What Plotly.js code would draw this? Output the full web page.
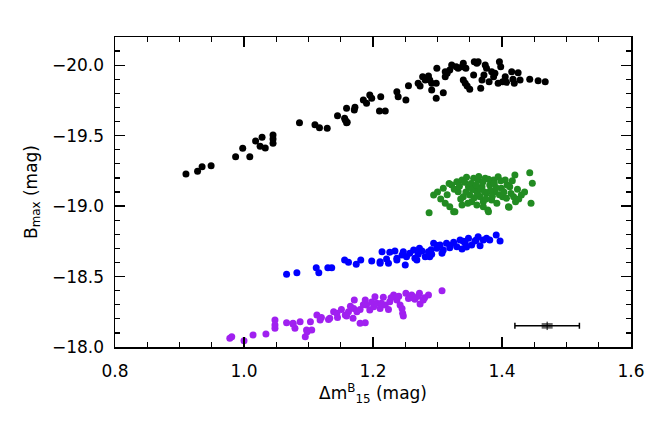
<!DOCTYPE html>
<html>
<head>
<meta charset="utf-8">
<script src="https://cdn.plot.ly/plotly-3.0.1.min.js"></script>
<style>html,body{margin:0;padding:0;background:#fff;}#chart{width:667px;height:422px;}</style>
</head>
<body>
<div id="chart"></div>
<script>
// Black sample
const blackX = [0.910,0.928,0.935,0.949,0.987,0.998,1.009,1.018,1.028,1.025,1.033,1.045,1.045,1.045,1.086,1.110,1.117,1.129,1.145,1.156,1.159,1.159,
  1.157,1.160,1.171,1.172,1.185,1.190,1.195,1.198,1.210,1.219,1.212,1.237,1.239,1.251,1.255,1.270,1.273,1.277,1.281,1.286,1.288,1.291,1.291,1.298,1.298,1.299,
  1.309,1.312,1.312,1.315,1.319,1.322,1.329,1.332,1.338,1.340,1.344,1.340,1.343,1.346,1.350,1.356,1.357,1.361,1.363,1.367,1.369,1.372,1.374,1.376,1.380,1.384,
  1.387,1.389,1.396,1.398,1.394,1.401,1.405,1.407,1.415,1.417,1.419,1.425,1.428,1.443,1.456,1.467];
const blackY = [-19.228,-19.247,-19.280,-19.287,-19.350,-19.410,-19.350,-19.462,-19.488,-19.424,-19.412,-19.505,-19.476,-19.446,-19.592,-19.578,-19.556,-19.552,-19.641,-19.623,-19.592,-19.694,
  -19.611,-19.595,-19.682,-19.701,-19.753,-19.729,-19.788,-19.765,-19.675,-19.675,-19.776,-19.812,-19.776,-19.753,-19.854,-19.871,-19.852,-19.918,-19.895,-19.923,-19.895,-19.824,-19.871,-19.871,-19.765,-19.978,
  -19.805,-19.918,-19.954,-19.942,-19.966,-20.001,-19.989,-19.978,-19.989,-20.013,-19.978,-19.895,-19.871,-19.852,-19.829,-19.930,-20.025,-20.013,-20.025,-19.836,-19.895,-19.930,-20.001,-19.978,-19.883,-19.954,
  -19.918,-19.942,-20.025,-19.989,-19.871,-19.883,-19.918,-19.878,-19.954,-19.900,-19.871,-19.947,-19.895,-19.900,-19.890,-19.883];

// Green sample
const greenX = [1.287,1.294,1.309,1.312,1.319,1.322,1.325,1.330,1.332,1.338,1.340,1.338,1.345,1.348,1.350,1.353,1.356,1.358,1.361,1.363,1.366,1.369,1.371,1.374,
  1.376,1.378,1.381,1.384,1.387,1.389,1.392,1.394,1.399,1.401,1.405,1.407,1.410,1.412,1.418,1.420,1.421,1.430,1.443,1.447,1.445,1.327,1.379,1.411,1.371,
  1.300,1.305,1.315,1.318,1.326,1.334,1.336,1.342,1.344,1.347,1.352,1.354,1.357,1.360,1.362,1.364,1.367,1.370,1.373,1.375,1.379,1.382,1.385,1.388,1.391,1.396,
  1.398,1.403,1.408,1.414,1.416,1.424,1.426,1.435];
const greenY = [-18.953,-19.079,-19.126,-19.020,-18.996,-19.150,-18.960,-19.173,-19.102,-19.185,-19.067,-19.008,-19.204,-19.138,-19.079,-19.031,-19.197,-19.114,-19.008,-19.185,-19.067,-19.138,-19.031,-19.197,
  -19.091,-18.972,-19.150,-19.043,-19.185,-19.102,-19.020,-19.209,-19.126,-19.067,-19.185,-19.055,-18.996,-19.138,-19.067,-19.221,-19.031,-19.079,-19.237,-19.162,-19.020,-18.960,-18.960,-18.991,-18.996,
  -19.100,-19.050,-19.080,-19.160,-19.120,-19.140,-19.050,-19.170,-19.100,-19.020,-19.160,-19.120,-19.060,-19.150,-19.090,-19.210,-19.120,-19.170,-19.100,-19.050,-19.190,-19.110,-19.070,-19.160,-19.130,-19.080,
  -19.180,-19.100,-19.150,-19.090,-19.180,-19.120,-19.050,-19.100];

// Blue sample
const blueX = [1.066,1.082,1.112,1.116,1.130,1.136,1.156,1.162,1.174,1.181,1.198,1.211,1.214,1.221,1.224,1.226,1.234,1.237,1.245,1.247,1.250,1.252,1.257,1.263,
  1.265,1.270,1.276,1.281,1.286,1.291,1.294,1.299,1.304,1.309,1.314,1.319,1.325,1.330,1.335,1.338,1.343,1.348,1.353,1.358,1.363,1.366,1.371,1.376,1.381,1.391,1.397,
  1.211,1.237,1.268,1.288,1.307,1.272,1.300,1.320,1.340,1.360,1.345,1.290];
const blueY = [-18.516,-18.527,-18.563,-18.527,-18.563,-18.563,-18.617,-18.601,-18.587,-18.617,-18.610,-18.594,-18.676,-18.624,-18.594,-18.672,-18.681,-18.629,-18.653,-18.676,-18.582,-18.641,-18.665,-18.688,
  -18.629,-18.658,-18.681,-18.641,-18.676,-18.658,-18.736,-18.700,-18.724,-18.688,-18.736,-18.705,-18.743,-18.712,-18.759,-18.695,-18.736,-18.771,-18.724,-18.752,-18.783,-18.719,-18.759,-18.771,-18.759,-18.795,-18.752,
  -18.605,-18.617,-18.617,-18.641,-18.665,-18.700,-18.720,-18.720,-18.750,-18.760,-18.710,-18.690];

// Purple sample
const purpleX = [0.978,0.981,1.000,1.014,1.034,1.048,1.048,1.048,1.066,1.076,1.079,1.087,1.095,1.098,1.105,1.103,1.113,1.118,1.131,1.139,1.144,1.151,1.157,1.162,
  1.169,1.170,1.171,1.175,1.180,1.188,1.180,1.188,1.190,1.195,1.201,1.203,1.206,1.211,1.216,1.219,1.224,1.226,1.232,1.237,1.242,1.245,1.246,1.247,1.251,1.255,1.260,
  1.265,1.272,1.273,1.278,1.286,1.307,1.076,1.097,1.133,1.159,
  1.120,1.145,1.165,1.185,1.198,1.213,1.228,1.240,1.262,1.270,1.280];
const purpleY = [-18.062,-18.073,-18.045,-18.085,-18.092,-18.191,-18.156,-18.133,-18.172,-18.168,-18.133,-18.179,-18.073,-18.108,-18.120,-18.179,-18.227,-18.191,-18.196,-18.250,-18.239,-18.267,-18.227,-18.250,
  -18.204,-18.274,-18.333,-18.250,-18.168,-18.172,-18.267,-18.333,-18.298,-18.262,-18.286,-18.357,-18.310,-18.274,-18.353,-18.298,-18.267,-18.321,-18.369,-18.333,-18.298,-18.274,-18.239,-18.220,-18.381,-18.345,-18.369,
  -18.338,-18.381,-18.305,-18.333,-18.369,-18.399,-18.163,-18.120,-18.204,-18.220,
  -18.210,-18.210,-18.290,-18.300,-18.320,-18.310,-18.350,-18.360,-18.350,-18.360,-18.350];

// Typical error bar
const errX = [1.47];
const errY = [-18.15];
const errXSize = [0.05];
const errYSize = [0.02];

const mk = (c) => ({size: 7, color: c, line: {width: 0}});
const data = [
  {x: blackX, y: blackY, type: 'scatter', mode: 'markers', marker: mk('#000000'), hoverinfo: 'skip'},
  {x: greenX, y: greenY, type: 'scatter', mode: 'markers', marker: mk('#228B22'), hoverinfo: 'skip'},
  {x: blueX, y: blueY, type: 'scatter', mode: 'markers', marker: mk('#0000FF'), hoverinfo: 'skip'},
  {x: purpleX, y: purpleY, type: 'scatter', mode: 'markers', marker: mk('#A020F0'), hoverinfo: 'skip'},
  {x: errX, y: errY, type: 'scatter', mode: 'markers',
   marker: {symbol: 'line-ns', size: 6, line: {width: 1, color: '#000'}},
   error_y: {type: 'data', array: errYSize, visible: true, thickness: 11, width: 0, color: '#666666'},
   error_x: {type: 'data', array: errXSize, visible: true, thickness: 1.5, width: 3, color: '#000000'},
   hoverinfo: 'skip'}
];

const font = {family: 'DejaVu Sans, sans-serif', size: 17, color: '#000'};
const layout = {
  width: 667, height: 422,
  margin: {l: 115, r: 36, t: 37, b: 75, pad: 0},
  paper_bgcolor: '#fff', plot_bgcolor: '#fff',
  showlegend: false,
  font: font,
  xaxis: {
    range: [0.8, 1.6], autorange: false, tick0: 0.8, dtick: 0.2, tickformat: '.1f',
    ticks: 'inside', ticklen: 10, tickwidth: 1.2, tickcolor: '#000',
    minor: {dtick: 0.05, ticks: 'inside', ticklen: 5, tickwidth: 1.2, tickcolor: '#000', showgrid: false},
    showline: true, linecolor: '#000', linewidth: 1.5, mirror: 'allticks',
    showgrid: false, zeroline: false, tickfont: font, ticklabelstandoff: 8,
    title: {text: 'Δm<sup>B</sup><sub>15</sub> (mag)', font: font, standoff: 0}
  },
  yaxis: {
    range: [-18.0, -20.2], autorange: false, tick0: -20, dtick: 0.5, tickformat: '.1f',
    ticks: 'inside', ticklen: 10, tickwidth: 1.2, tickcolor: '#000',
    minor: {dtick: 0.1, ticks: 'inside', ticklen: 5, tickwidth: 1.2, tickcolor: '#000', showgrid: false},
    showline: true, linecolor: '#000', linewidth: 1.5, mirror: 'allticks',
    showgrid: false, zeroline: false, tickfont: font, ticklabelstandoff: 6,
    title: {text: 'B<sub>max</sub> (mag)', font: font, standoff: 10}
  }
};
Plotly.newPlot('chart', data, layout, {staticPlot: true});
</script>
</body>
</html>
